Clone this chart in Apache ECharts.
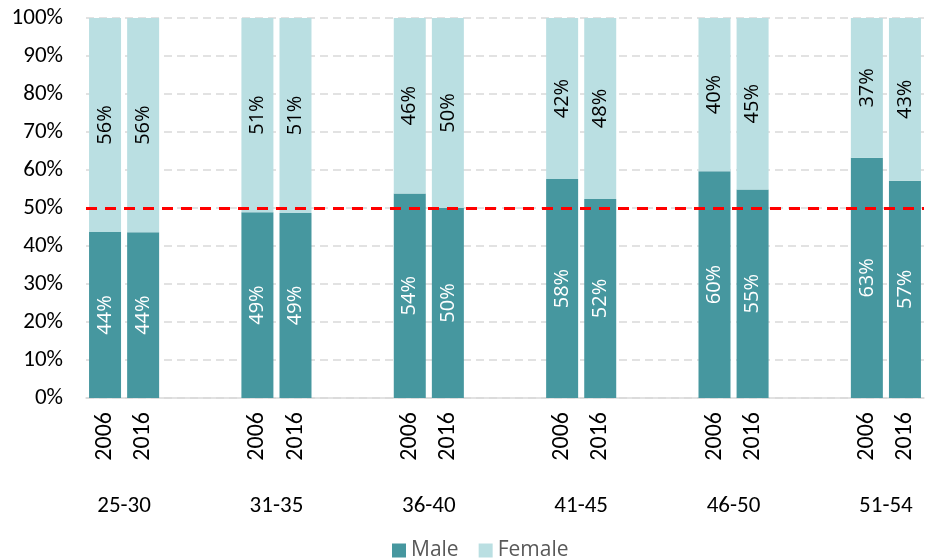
<!DOCTYPE html>
<html>
<head>
<meta charset="utf-8">
<script src="https://cdn.jsdelivr.net/npm/echarts@6/dist/echarts.min.js"></script>
<style>
  html, body { margin: 0; padding: 0; background: #ffffff; }
  #chart { width: 930px; height: 560px; }
</style>
</head>
<body>
<div id="chart"></div>
<script>
// Age bands and survey years
const ageGroups = ['25-30', '31-35', '36-40', '41-45', '46-50', '51-54'];
const years = ['2006', '2016'];

// Share of each sex per age band, ordered 2006, 2016 within each band (percent)
const maleShare   = [43.7, 43.6, 48.9, 48.7, 53.8, 50.0, 57.6, 52.4, 59.7, 54.9, 63.2, 57.2];
const femaleShare = [56.3, 56.4, 51.1, 51.3, 46.2, 50.0, 42.4, 47.6, 40.3, 45.1, 36.8, 42.8];

// Y-axis tick labels
const yTicks = [0, 10, 20, 30, 40, 50, 60, 70, 80, 90, 100];
const parityLine = 50;

const AXIS_FONT = 'Carlito, Lato, sans-serif';
const UI_FONT = '"Open Sans", sans-serif';

// Build the slot-based category axis: two bars per band, two empty slots between bands
const slots = [];
const maleSlots = [];
const femaleSlots = [];
ageGroups.forEach((g, gi) => {
  years.forEach((y, yi) => {
    slots.push(y);
    maleSlots.push(maleShare[gi * 2 + yi]);
    femaleSlots.push(femaleShare[gi * 2 + yi]);
  });
  if (gi < ageGroups.length - 1) {
    slots.push('_gap' + gi + 'a', '_gap' + gi + 'b');
    maleSlots.push(null, null);
    femaleSlots.push(null, null);
  }
});

// Group axis: each band spans two bar slots
const groupSlots = [];
ageGroups.forEach((g, gi) => {
  groupSlots.push(g);
  if (gi < ageGroups.length - 1) groupSlots.push('_sp' + gi);
});

const chart = echarts.init(document.getElementById('chart'), null, { renderer: 'canvas' });

const pctLabel = (color) => ({
  show: true,
  position: 'inside',
  rotate: 90,
  color: color,
  fontFamily: UI_FONT,
  fontSize: 20,
  formatter: (p) => (p.value == null ? '' : Math.round(p.value) + '%')
});

chart.setOption({
  animation: false,
  backgroundColor: '#ffffff',
  textStyle: { fontFamily: AXIS_FONT },
  grid: { left: 86, right: 6, top: 18, bottom: 162 },
  legend: {
    top: 535,
    left: 387,
    icon: 'rect',
    itemWidth: 14,
    itemHeight: 14,
    itemGap: 20,
    textStyle: { fontFamily: UI_FONT, fontSize: 21, color: '#595959' },
    data: ['Male', 'Female']
  },
  xAxis: [
    {
      type: 'category',
      data: slots,
      boundaryGap: true,
      axisLine: { show: true, lineStyle: { color: '#d9d9d9', width: 1.5 } },
      axisTick: { show: false },
      axisLabel: {
        interval: 0,
        rotate: 90,
        margin: 14,
        color: '#000000',
        fontFamily: AXIS_FONT,
        fontSize: 24,
        formatter: (v) => (v.charAt(0) === '_' ? '' : v)
      }
    },
    {
      type: 'category',
      data: groupSlots,
      position: 'bottom',
      offset: 93,
      boundaryGap: true,
      axisLine: { show: false },
      axisTick: { show: false },
      axisLabel: {
        interval: 0,
        margin: 4,
        color: '#000000',
        fontFamily: AXIS_FONT,
        fontSize: 23,
        formatter: (v) => (v.charAt(0) === '_' ? '' : v)
      }
    }
  ],
  yAxis: {
    type: 'value',
    min: yTicks[0],
    max: yTicks[yTicks.length - 1],
    interval: 10,
    axisLine: { show: false },
    axisTick: { show: false },
    axisLabel: {
      margin: 23,
      color: '#000000',
      fontFamily: AXIS_FONT,
      fontSize: 23,
      formatter: (v) => v + '%'
    },
    splitLine: {
      show: true,
      lineStyle: { color: '#d9d9d9', width: 1.5, type: [8, 5] }
    }
  },
  series: [
    {
      name: 'Male',
      type: 'bar',
      stack: 'share',
      xAxisIndex: 0,
      barCategoryGap: '16%',
      data: maleSlots,
      itemStyle: { color: '#46979f' },
      label: pctLabel('#ffffff'),
      markLine: {
        silent: true,
        symbol: 'none',
        label: { show: false },
        lineStyle: { color: '#ff0000', width: 3, type: [11, 8] },
        data: [{ yAxis: parityLine }],
        z: 10
      }
    },
    {
      name: 'Female',
      type: 'bar',
      stack: 'share',
      xAxisIndex: 0,
      barCategoryGap: '16%',
      data: femaleSlots,
      itemStyle: { color: '#badfe2' },
      label: pctLabel('#000000')
    }
  ]
});
</script>
</body>
</html>
